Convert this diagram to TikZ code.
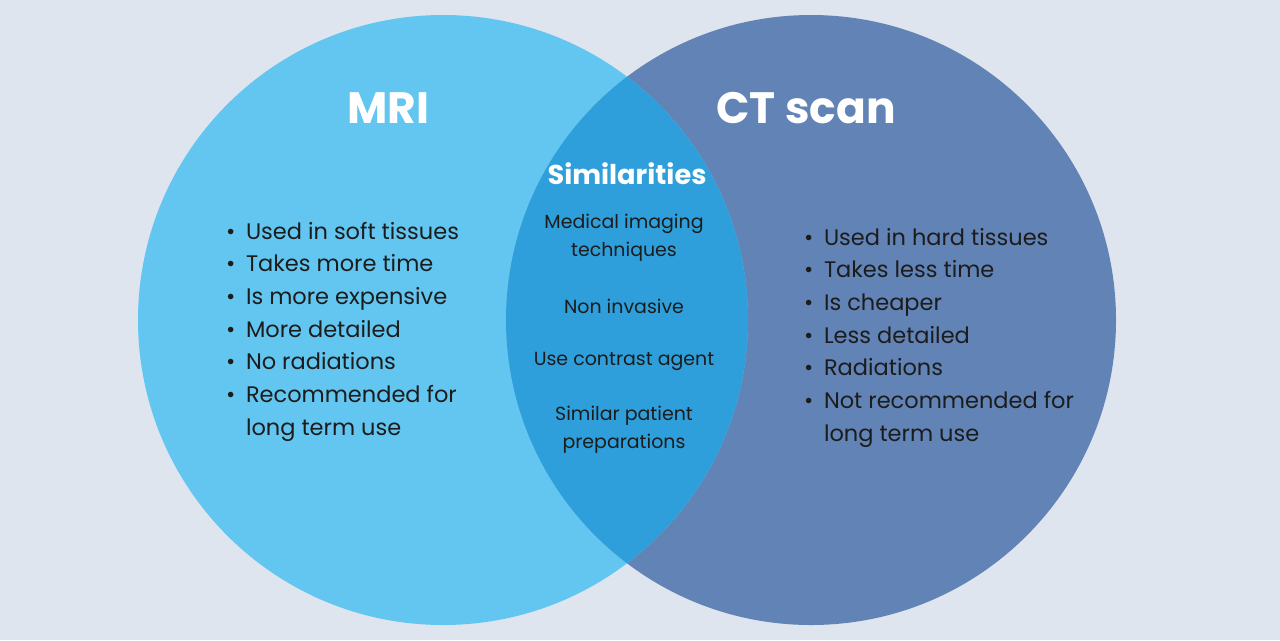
\documentclass[tikz,border=0pt]{standalone}
\usepackage{fontspec}
\setmainfont{Poppins}
\definecolor{bgcol}{HTML}{DFE5EE}
\definecolor{mricol}{HTML}{62C6F0}
\definecolor{ctcol}{HTML}{6283B5}
\definecolor{simcol}{HTML}{2E9FDB}
\definecolor{txtcol}{HTML}{1C1C1C}
\tikzset{
  title/.style={text=white, font=\fontsize{25}{30}\selectfont\bfseries},
  subtitle/.style={text=white, font=\fontsize{15.5}{20}\selectfont\bfseries},
  blist/.style={text=txtcol, align=left, font=\fontsize{12.8}{18.6}\selectfont},
  slist/.style={text=txtcol, align=center, font=\fontsize{10.8}{16}\selectfont}
}
\begin{document}
\begin{tikzpicture}[x=0.02cm,y=-0.02cm]
\fill[bgcol] (0,0) rectangle (1280,640);

% Circles
\fill[ctcol] (811,320) circle (305);
\fill[mricol] (443,320) circle (305);
\begin{scope}
  \clip (443,320) circle (305);
  \fill[simcol] (811,320) circle (305);
\end{scope}

% Titles
\node[title] (mri) at (388,108) {MRI};
\node[title] (ct) at (806,108) {CT scan};
\node[subtitle] (sim) at (627,174) {Similarities};

% MRI list
\node[blist, anchor=north west] (mrilist) at (220,210) {%
\begin{tabular}{@{}l@{\hspace{6pt}}l@{}}
\textbullet & Used in soft tissues\\
\textbullet & Takes more time\\
\textbullet & Is more expensive\\
\textbullet & More detailed\\
\textbullet & No radiations\\
\textbullet & Recommended for\\
 & long term use
\end{tabular}};

% CT list
\node[blist, anchor=north west] (ctlist) at (798,216) {%
\begin{tabular}{@{}l@{\hspace{6pt}}l@{}}
\textbullet & Used in hard tissues\\
\textbullet & Takes less time\\
\textbullet & Is cheaper\\
\textbullet & Less detailed\\
\textbullet & Radiations\\
\textbullet & Not recommended for\\
 & long term use
\end{tabular}};

% Similarities
\node[slist] (s1) at (624,238) {Medical imaging\\techniques};
\node[slist] (s2) at (624,306) {Non invasive};
\node[slist] (s3) at (624,361) {Use contrast agent};
\node[slist] (s4) at (624,430) {Similar patient\\preparations};
\end{tikzpicture}
\end{document}
